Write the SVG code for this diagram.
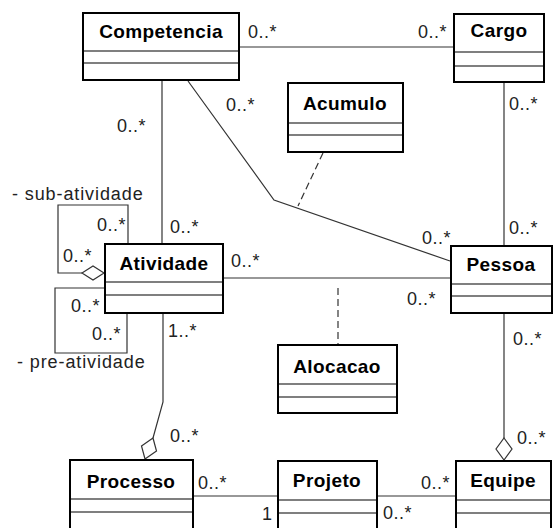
<svg xmlns="http://www.w3.org/2000/svg" width="554" height="528" viewBox="0 0 554 528">
<style>
.box{fill:#fff;stroke:#000;stroke-width:2}
.sep{stroke:#000;stroke-width:1.2}
.name{font-family:"Liberation Sans",Arial,sans-serif;font-size:19px;font-weight:bold;fill:#000;text-anchor:middle;letter-spacing:0.4px}
.lbl{font-family:"Liberation Sans",Arial,sans-serif;font-size:18px;fill:#222;letter-spacing:0.5px}
.role{font-family:"Liberation Sans",Arial,sans-serif;font-size:18px;fill:#222;letter-spacing:0.9px}
.ln{fill:none;stroke:#333;stroke-width:1.2}
.dash{fill:none;stroke:#333;stroke-width:1.2;stroke-dasharray:7 4}
.dia{fill:#fff;stroke:#333;stroke-width:1.2}
</style>
<rect width="554" height="528" fill="#fff"/>
<g id="connectors">
<line class="ln" x1="240" y1="47" x2="453" y2="47"/>
<line class="ln" x1="162" y1="81" x2="162" y2="243"/>
<polyline class="ln" points="188,81 274,200 450,261"/>
<line class="dash" x1="323" y1="153" x2="298" y2="206"/>
<line class="ln" x1="504" y1="83" x2="504" y2="245"/>
<line class="ln" x1="224" y1="278" x2="450" y2="278"/>
<line class="dash" x1="338" y1="288" x2="338" y2="344"/>
<line class="ln" x1="504" y1="314" x2="504" y2="438"/>
<polygon class="dia" points="504,438 512,449 504,460 496,449"/>
<polyline class="ln" points="163,314 163,402 153,438"/>
<polygon class="dia" points="153,438 156.5,451 145,459 141.5,446"/>
<line class="ln" x1="194" y1="496" x2="277" y2="496"/>
<line class="ln" x1="378" y1="496" x2="455" y2="496"/>
<polyline class="ln" points="128,243 128,205 58,205 58,273 82,273"/>
<polygon class="dia" points="82,273 93,266 104,273 93,280"/>
<polyline class="ln" points="104,288 55,288 55,353 127,353 127,314"/>
<text class="lbl" x="248" y="38">0..*</text>
<text class="lbl" x="418" y="38">0..*</text>
<text class="lbl" x="117" y="132">0..*</text>
<text class="lbl" x="226" y="111">0..*</text>
<text class="lbl" x="509" y="110">0..*</text>
<text class="lbl" x="170" y="233">0..*</text>
<text class="lbl" x="422" y="244">0..*</text>
<text class="lbl" x="509" y="234">0..*</text>
<text class="lbl" x="231" y="267">0..*</text>
<text class="lbl" x="407" y="305">0..*</text>
<text class="lbl" x="513" y="345">0..*</text>
<text class="lbl" x="168" y="337">1..*</text>
<text class="lbl" x="170" y="442">0..*</text>
<text class="lbl" x="517" y="444">0..*</text>
<text class="lbl" x="198" y="489">0..*</text>
<text class="lbl" x="262" y="520">1</text>
<text class="lbl" x="421" y="489">0..*</text>
<text class="lbl" x="383" y="519">0..*</text>
<text class="lbl" x="97" y="231">0..*</text>
<text class="lbl" x="63" y="262">0..*</text>
<text class="lbl" x="71" y="312">0..*</text>
<text class="lbl" x="92" y="340">0..*</text>
<text class="role" x="12" y="200">- sub-atividade</text>
<text class="role" x="17" y="368">- pre-atividade</text>
</g>
<g id="Competencia">
<rect class="box" x="83" y="13" width="156" height="67"/>
<line class="sep" x1="83" y1="51" x2="239" y2="51"/>
<line class="sep" x1="83" y1="63" x2="239" y2="63"/>
<text class="name" x="161" y="38">Competencia</text>
</g>
<g id="Cargo">
<rect class="box" x="454" y="14" width="90" height="68"/>
<line class="sep" x1="454" y1="52" x2="544" y2="52"/>
<line class="sep" x1="454" y1="66" x2="544" y2="66"/>
<text class="name" x="499" y="37">Cargo</text>
</g>
<g id="Acumulo">
<rect class="box" x="288" y="83" width="115" height="69"/>
<line class="sep" x1="288" y1="123" x2="403" y2="123"/>
<line class="sep" x1="288" y1="135" x2="403" y2="135"/>
<text class="name" x="345" y="110">Acumulo</text>
</g>
<g id="Atividade">
<rect class="box" x="105" y="244" width="118" height="69"/>
<line class="sep" x1="105" y1="282" x2="223" y2="282"/>
<line class="sep" x1="105" y1="295" x2="223" y2="295"/>
<text class="name" x="164" y="270">Atividade</text>
</g>
<g id="Pessoa">
<rect class="box" x="451" y="246" width="101" height="67"/>
<line class="sep" x1="451" y1="284" x2="552" y2="284"/>
<line class="sep" x1="451" y1="296" x2="552" y2="296"/>
<text class="name" x="501" y="271">Pessoa</text>
</g>
<g id="Alocacao">
<rect class="box" x="278" y="345" width="119" height="68"/>
<line class="sep" x1="278" y1="384" x2="397" y2="384"/>
<line class="sep" x1="278" y1="397" x2="397" y2="397"/>
<text class="name" x="337" y="373">Alocacao</text>
</g>
<g id="Processo">
<rect class="box" x="70" y="460" width="123" height="80"/>
<line class="sep" x1="70" y1="499" x2="193" y2="499"/>
<line class="sep" x1="70" y1="512" x2="193" y2="512"/>
<text class="name" x="131" y="488">Processo</text>
</g>
<g id="Projeto">
<rect class="box" x="278" y="461" width="99" height="80"/>
<line class="sep" x1="278" y1="500" x2="377" y2="500"/>
<line class="sep" x1="278" y1="513" x2="377" y2="513"/>
<text class="name" x="327" y="487">Projeto</text>
</g>
<g id="Equipe">
<rect class="box" x="456" y="461" width="95" height="80"/>
<line class="sep" x1="456" y1="500" x2="551" y2="500"/>
<line class="sep" x1="456" y1="513" x2="551" y2="513"/>
<text class="name" x="503" y="487">Equipe</text>
</g>
</svg>
